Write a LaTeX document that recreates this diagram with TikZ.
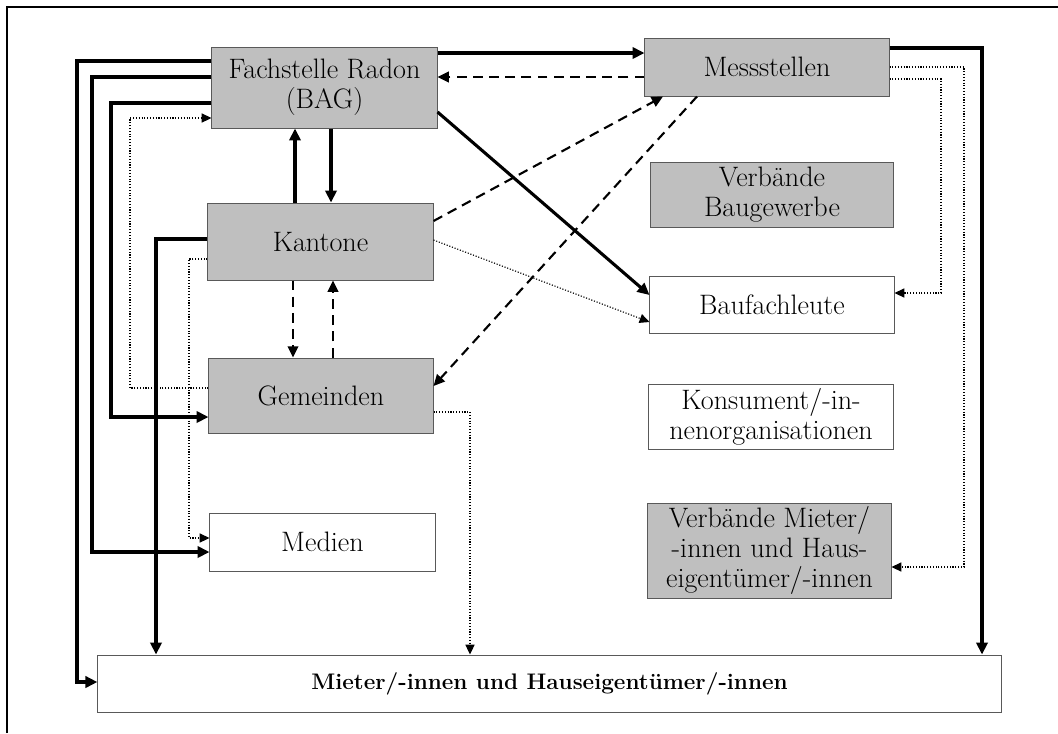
\documentclass[tikz,border=0pt]{standalone}
\usepackage{tikz}
\usetikzlibrary{arrows.meta}

\begin{document}
\begin{tikzpicture}[x = 0.025cm, y = -0.025cm,
        font = \fontsize{20}{21.5}\selectfont,
        box/.style = {draw = black!65, line width = 0.7pt, align = center,
            inner sep = 0pt},
        grey/.style = {box, fill = black!25},
        white/.style = {box, fill = white},
        solid line/.style = {line width = 2.2pt, -{Triangle[length = 8.5pt, width = 8pt]}},
        dash line/.style = {line width = 1.5pt, dash pattern = on 7pt off 4.5pt,
            -{Triangle[length = 8pt, width = 7.5pt]}},
        dot line/.style = {line width = 0.8pt, dash pattern = on 0.8pt off 1.2pt,
            -{Triangle[length = 7pt, width = 6.5pt]}}]
        \useasboundingbox (0,0) rectangle (1058,733);
        % frame
        \draw [line width = 1pt] (7,733) -- (7,7) -- (1058,7);

        % boxes, left column
        \node[grey, minimum width = 5.625cm, minimum height = 2.025cm] (fach) at (324.5,87.5) {Fachstelle Radon\\(BAG)};
        \node[grey, minimum width = 5.625cm, minimum height = 1.925cm] (kant) at (320.5,241.5) {Kantone};
        \node[grey, minimum width = 5.6cm, minimum height = 1.875cm] (gem) at (321,395.5) {Gemeinden};
        \node[white, minimum width = 5.625cm, minimum height = 1.45cm] (medien) at (322.5,542) {Medien};

        % boxes, right column
        \node[grey, minimum width = 6.1cm, minimum height = 1.45cm] (mess) at (767,67) {Messstellen};
        \node[grey, minimum width = 6.05cm, minimum height = 1.625cm] (verbbau) at (772,194.5) {Verbände\\Baugewerbe};
        \node[white, minimum width = 6.1cm, minimum height = 1.425cm] (baufach) at (772,304.5) {Baufachleute};
        \node[white, minimum width = 6.1cm, minimum height = 1.625cm] (konsum) at (771,416.5) {Konsument/-in-\\nenorganisationen};
        \node[grey, minimum width = 6.075cm, minimum height = 2.375cm] (verbmiet) at (769.5,550.5) {Verbände Mieter/\\-innen und Haus-\\eigentümer/-innen};

        % bottom box
        \node[white, minimum width = 22.575cm, minimum height = 1.425cm,
            font = \fontsize{16}{19}\selectfont\bfseries] (mieter) at (549.5,683.5)
            {Mieter/-innen und Hauseigentümer/-innen};

        % Fachstelle and Messstellen
        \draw [solid line] (fach.east |- 0,53) -- (mess.west |- 0,53);
        \draw [dash line] (mess.west |- 0,77) -- (fach.east |- 0,77);
        \draw [solid line] (fach.east |- 0,112) -- (baufach.west |- 0,295);

        % Kantone and Messstellen / Baufachleute
        \draw [dash line] (kant.east |- 0,221) -- (mess.south -| 663,0);
        \draw [dash line] (mess.south -| 697,0) -- (gem.east |- 0,386);
        \draw [dot line] (kant.east |- 0,240) -- (baufach.west |- 0,322);

        % vertical links in the left column
        \draw [solid line] (kant.north -| 295,0) -- (fach.south -| 295,0);
        \draw [solid line] (fach.south -| 331,0) -- (kant.north -| 331,0);
        \draw [dash line] (kant.south -| 293,0) -- (gem.north -| 293,0);
        \draw [dash line] (gem.north -| 333,0) -- (kant.south -| 333,0);

        % lines round the left side
        \draw [solid line] (fach.west |- 0,61) -| (77,682) -- (mieter.west |- 0,682);
        \draw [solid line] (fach.west |- 0,77) -| (92,552) -- (medien.west |- 0,552);
        \draw [solid line] (fach.west |- 0,103) -| (111,417) -- (gem.west |- 0,417);
        \draw [dot line] (gem.west |- 0,388) -| (130,118) -- (fach.west |- 0,118);
        \draw [solid line] (kant.west |- 0,239) -| (mieter.north -| 156,0);
        \draw [dot line] (kant.west |- 0,259) -| (189,538) -- (medien.west |- 0,538);
        \draw [dot line] (gem.east |- 0,412) -| (mieter.north -| 470,0);

        % lines round the right side
        \draw [solid line] (mess.east |- 0,48) -| (mieter.north -| 982,0);
        \draw [dot line] (mess.east |- 0,67) -| (964,567) -- (verbmiet.east |- 0,567);
        \draw [dot line] (mess.east |- 0,79) -| (941,293) -- (baufach.east |- 0,293);
    \end{tikzpicture}
\end{document}
